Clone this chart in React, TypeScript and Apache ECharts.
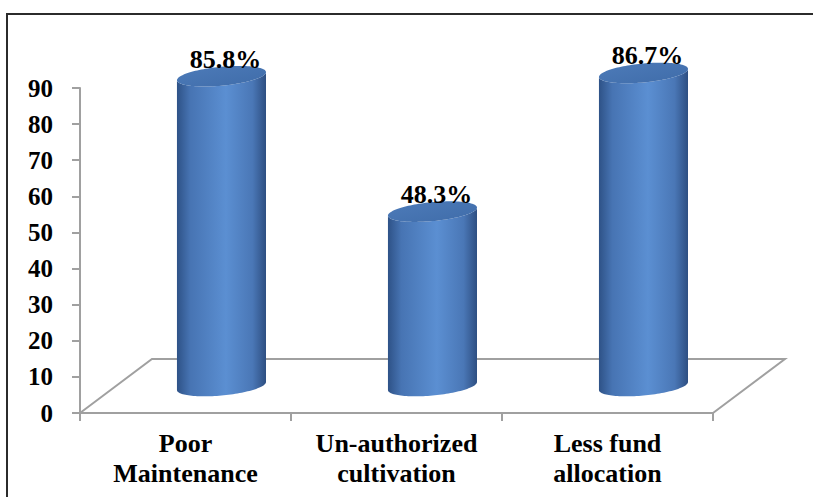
import React, { useEffect, useRef } from 'react';
import * as echarts from 'echarts';

const categories = ['Poor\nMaintenance', 'Un-authorized\ncultivation', 'Less fund\nallocation'];
const values = [85.8, 48.3, 86.7];
const yMin = 0;
const yMax = 90;
const yInterval = 10;

const FONT = 'Times New Roman';
const GRAY = '#a0a0a0';

export default function App() {
  const ref = useRef<HTMLDivElement>(null);
  useEffect(() => {
    const chart = echarts.init(ref.current!, null, { renderer: 'svg' });
    const depth = (band: number) => {
      const dx = band * 0.341;
      return [dx, -dx * 0.75];
    };
    const floorRender = (params: any, api: any) => {
      if (params.dataIndex !== 0) return null;
      const n = values.length;
      const band = api.size([1, 0])[0];
      const [dx, dy] = depth(band);
      const p0 = api.coord([0, 0]);
      const pn = api.coord([n - 1, 0]);
      const fl = [p0[0] - band / 2, p0[1]];
      const fr = [pn[0] + band / 2, pn[1]];
      const bl = [fl[0] + dx, fl[1] + dy];
      const br = [fr[0] + dx, fr[1] + dy];
      return {
        type: 'polyline',
        shape: { points: [fl, bl, br, fr] },
        style: { stroke: GRAY, lineWidth: 2, fill: null },
      };
    };
    const bodyGrad = new echarts.graphic.LinearGradient(0, 0, 1, 0, [
      { offset: 0, color: '#2e5287' },
      { offset: 0.15, color: '#4774b3' },
      { offset: 0.55, color: '#5b8fd2' },
      { offset: 0.85, color: '#4a77b6' },
      { offset: 1, color: '#2e4f82' },
    ]);
    const capGrad = new echarts.graphic.LinearGradient(0, 0, 1, 1, [
      { offset: 0, color: '#4d7bb9' },
      { offset: 1, color: '#3f6ca9' },
    ]);
    const cylRender = (params: any, api: any) => {
      const i = api.value(0);
      const v = api.value(1);
      const band = api.size([1, 0])[0];
      const [dx, dy] = depth(band);
      const base = api.coord([i, 0]);
      const top = api.coord([i, v]);
      const cx = base[0] + dx / 2;
      const by = base[1] + dy / 2;
      const ty = top[1] + dy / 2;
      const rx = band * 0.211;
      const ry = 9.5;
      const k = -0.09;
      const pt = (cy: number, th: number) => [
        cx + rx * Math.cos(th),
        cy + ry * Math.sin(th) + k * rx * Math.cos(th),
      ];
      const N = 60;
      const body: number[][] = [];
      for (let j = 0; j <= N; j++) body.push(pt(by, Math.PI - (Math.PI * j) / N));
      for (let j = 0; j <= N; j++) body.push(pt(ty, (Math.PI * j) / N));
      const cap: number[][] = [];
      for (let j = 0; j < N * 2; j++) cap.push(pt(ty, (Math.PI * j) / N));
      return {
        type: 'group',
        children: [
          { type: 'polygon', shape: { points: body }, style: { fill: bodyGrad } },
          { type: 'polygon', shape: { points: cap }, style: { fill: capGrad } },
          {
            type: 'text',
            x: cx + 4,
            y: ty - 4,
            style: {
              text: `${v}%`,
              fill: '#000',
              fontSize: 26,
              fontWeight: 'bold',
              fontFamily: FONT,
              align: 'center',
              verticalAlign: 'bottom',
            },
          },
        ],
      };
    };
    chart.setOption({
      animation: false,
      backgroundColor: '#fff',
      textStyle: { fontFamily: FONT },
      grid: { left: 80, right: 100, top: 88, bottom: 84, containLabel: false },
      graphic: [
        {
          type: 'rect',
          shape: { x: 7, y: 14, width: 900, height: 600 },
          style: { stroke: '#2b2b2b', lineWidth: 2, fill: 'none' },
          silent: true,
          z: -1,
        },
      ],
      xAxis: {
        type: 'category',
        data: categories,
        axisLine: { show: true, lineStyle: { color: GRAY, width: 2 } },
        axisTick: { show: true, length: 8, lineStyle: { color: GRAY, width: 2 } },
        axisLabel: {
          interval: 0,
          hideOverlap: false,
          color: '#000',
          fontSize: 26,
          fontWeight: 'bold',
          fontFamily: FONT,
          lineHeight: 30,
          margin: 15,
        },
        splitLine: { show: false },
      },
      yAxis: {
        type: 'value',
        min: yMin,
        max: yMax,
        interval: yInterval,
        axisLine: { show: true, lineStyle: { color: GRAY, width: 2 } },
        axisTick: { show: true, length: 8, lineStyle: { color: GRAY, width: 2 } },
        axisLabel: {
          color: '#000',
          fontSize: 25,
          fontWeight: 'bold',
          fontFamily: FONT,
          margin: 27,
        },
        splitLine: { show: false },
      },
      series: [
        {
          type: 'custom',
          renderItem: floorRender,
          data: values.map((v, i) => [i, 0]),
          z: 1,
          silent: true,
        },
        {
          type: 'custom',
          renderItem: cylRender,
          data: values.map((v, i) => [i, v]),
          z: 2,
          silent: true,
        },
      ],
    });
    return () => chart.dispose();
  }, []);
  return (
    <div
      ref={ref}
      style={{ position: 'fixed', left: 0, top: 0, width: 813, height: 497 }}
    />
  );
}
